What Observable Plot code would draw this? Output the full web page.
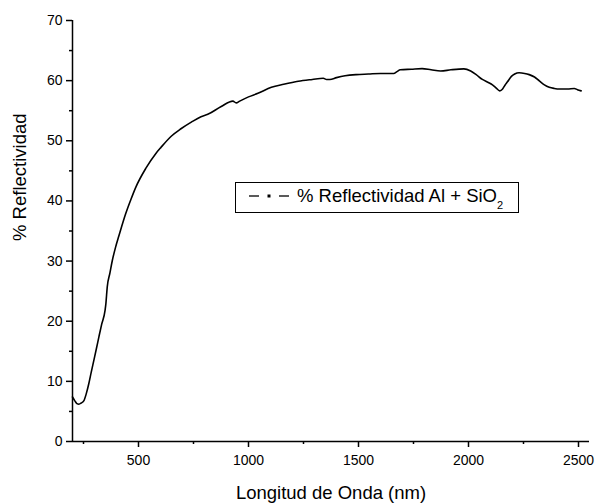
<!DOCTYPE html>
<html>
<head>
<meta charset="utf-8">
<script src="https://cdn.jsdelivr.net/npm/d3@7"></script>
<script src="https://cdn.jsdelivr.net/npm/@observablehq/plot@0.6"></script>
<style>
  html, body { margin: 0; padding: 0; background: #fff; }
  #chart svg { display: block; }
</style>
</head>
<body>
<div id="chart"></div>
<script>
const wavelength = [200,210,220,229,240,252,263,274,285,297,309,320,332,348,352,355,358,370,381,395,411,442,465,488,533,579,602,650,693,740,784,815,876,929,944,960,1000,1043,1104,1160,1226,1290,1340,1355,1370,1400,1439,1490,1545,1600,1660,1675,1690,1740,1789,1830,1873,1920,1979,2010,2035,2063,2090,2109,2125,2142,2155,2165,2177,2195,2210,2230,2255,2276,2300,2322,2345,2367,2390,2413,2450,2481,2495,2512];
const reflectance = [7.4,6.8,6.3,6.2,6.4,6.8,8.0,9.6,11.5,13.5,15.5,17.4,19.4,21.8,23.0,24.4,25.7,28.0,30.1,32.2,34.2,37.9,40.2,42.3,45.4,47.9,48.9,50.8,52.0,53.1,54.0,54.4,55.7,56.6,56.3,56.6,57.3,57.9,58.9,59.4,59.9,60.2,60.4,60.2,60.2,60.5,60.8,61.0,61.1,61.2,61.2,61.5,61.8,61.9,62.0,61.8,61.6,61.8,61.95,61.6,61.0,60.2,59.7,59.3,58.8,58.3,58.6,59.2,59.8,60.7,61.1,61.3,61.2,61.0,60.6,59.95,59.3,58.9,58.7,58.6,58.6,58.7,58.5,58.3];
const xTicks = [500,1000,1500,2000,2500];
const xMinorTicks = [250,750,1250,1750,2250];
const yTicks = [0,10,20,30,40,50,60,70];
const yMinorTicks = [5,15,25,35,45,55,65];
const xTitle = "Longitud de Onda (nm)";
const yTitle = "% Reflectividad";
const seriesName = "% Reflectividad Al + SiO";
const seriesSub = "2";

const data = wavelength.map((w, i) => ({w, r: reflectance[i]}));

const chart = Plot.plot({
  width: 610,
  height: 504,
  marginLeft: 72,
  marginRight: 21,
  marginTop: 20,
  marginBottom: 63,
  style: {fontFamily: "'Liberation Sans', Arial, sans-serif", color: "#000", background: "#fff"},
  x: {domain: [200, 2550]},
  y: {domain: [0, 70]},
  marks: [
    Plot.axisX(xTicks, {tickSize: 6, tickPadding: 8, fontSize: 14, label: null, strokeWidth: 1.5, tickFormat: d3.format("d")}),
    Plot.axisX(xMinorTicks, {tickSize: 3, tickFormat: () => "", label: null, strokeWidth: 1.5}),
    Plot.axisY(yTicks, {tickSize: 6, tickPadding: 4, fontSize: 14, label: null, strokeWidth: 1.5, tickFormat: d3.format("d")}),
    Plot.axisY(yMinorTicks, {tickSize: 3, tickFormat: () => "", label: null, strokeWidth: 1.5}),
    Plot.ruleY([0], {stroke: "#000", strokeWidth: 1.5}),
    Plot.ruleX([200], {stroke: "#000", strokeWidth: 1.5}),
    Plot.line(data, {x: "w", y: "r", stroke: "#000", strokeWidth: 1.6, curve: "monotone-x"}),
    Plot.text([xTitle], {frameAnchor: "bottom", dy: 57, fontSize: 18.5, fill: "#000"}),
    Plot.text([yTitle], {frameAnchor: "left", dx: -52, dy: 10, rotate: -90, fontSize: 18.5, fill: "#000"})
  ]
});

document.getElementById("chart").appendChild(chart);

// Legend inside plot area
const svg = d3.select(chart);
const g = svg.append("g").attr("font-family", "'Liberation Sans', Arial, sans-serif").attr("text-anchor", "start");
g.append("rect").attr("x", 235.5).attr("y", 182.5).attr("width", 283).attr("height", 30)
  .attr("fill", "#fff").attr("stroke", "#000").attr("stroke-width", 1);
g.append("line").attr("x1", 249).attr("x2", 259).attr("y1", 196).attr("y2", 196).attr("stroke", "#000").attr("stroke-width", 1.3);
g.append("rect").attr("x", 267.5).attr("y", 194.5).attr("width", 3).attr("height", 3).attr("fill", "#000");
g.append("line").attr("x1", 279).attr("x2", 289).attr("y1", 196).attr("y2", 196).attr("stroke", "#000").attr("stroke-width", 1.3);
const t = g.append("text").attr("x", 297).attr("y", 202).attr("font-size", 18.5).attr("fill", "#000").attr("text-anchor", "start");
t.append("tspan").text(seriesName);
t.append("tspan").attr("font-size", 11).attr("dy", 7).text(seriesSub);
</script>
</body>
</html>
